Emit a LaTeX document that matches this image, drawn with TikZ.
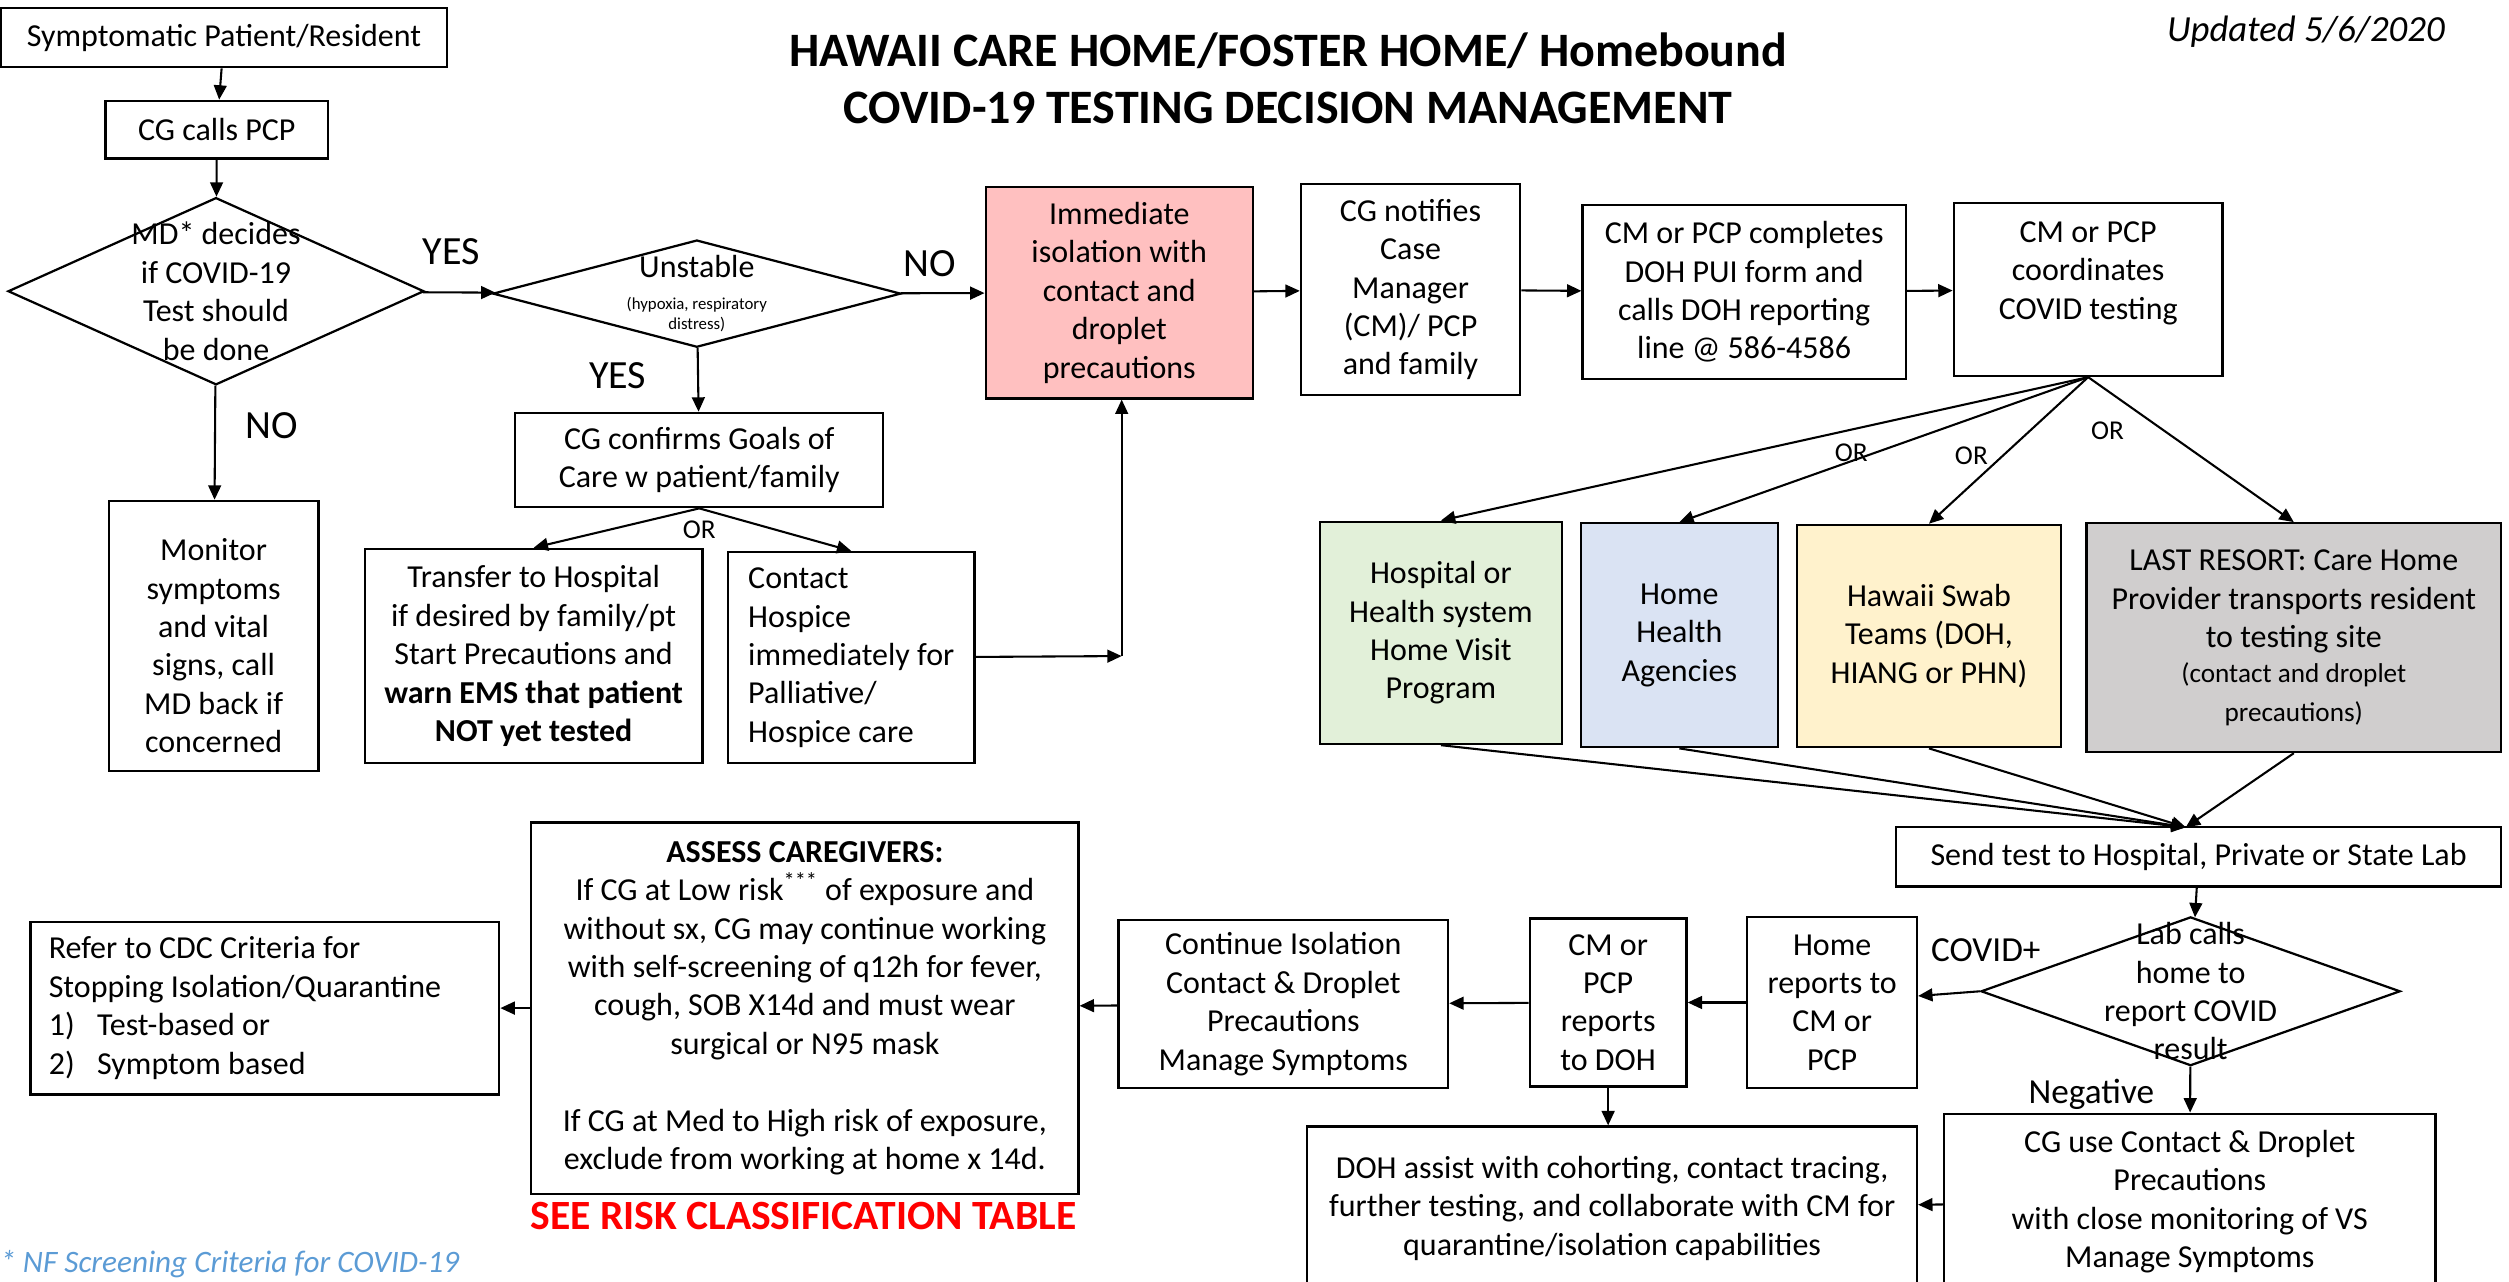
\documentclass[tikz,border=0pt]{standalone}
\usepackage{fontspec}
\setmainfont{Carlito}
\usetikzlibrary{shapes.geometric,arrows.meta}

\definecolor{isopink}{RGB}{255,192,192}
\definecolor{visitgreen}{RGB}{226,240,217}
\definecolor{agencyblue}{RGB}{218,227,243}
\definecolor{swabyellow}{RGB}{255,242,204}
\definecolor{resortgray}{RGB}{208,206,206}
\definecolor{footblue}{RGB}{91,155,213}
\definecolor{alertred}{RGB}{255,0,0}

\newcommand{\smallnote}[1]{{\fontsize{10.5}{12}\selectfont #1}}
\newcommand{\midnote}[1]{{\fontsize{17}{22}\selectfont #1}}

\tikzset{
  ->/.style={draw=black,line width=1.3pt,-{Triangle[length=9pt,width=8pt]}},
  box/.style={draw=black,line width=1.4pt,align=center,inner sep=2pt},
  decision/.style={diamond,draw=black,line width=1.4pt,align=center,inner sep=-22pt},
  answer/.style={font=\fontsize{25}{30}\selectfont},
  orword/.style={font=\fontsize{17}{20}\selectfont}
}
\tikzstyle{every node}=[color=black,font=\fontsize{20}{24}\selectfont]

\begin{document}
\begin{tikzpicture}[x=1pt,y=-1pt]
    \useasboundingbox (0,0) rectangle (1568,801);
    % heading
    \node[font=\bfseries\fontsize{30}{36}\selectfont,align=center] (title) at (805,49)
      {HAWAII CARE HOME/FOSTER HOME/ Homebound\\COVID-19 TESTING DECISION MANAGEMENT};
    \node[font=\itshape\fontsize{23}{28}\selectfont] (date) at (1441,20) {Updated 5/6/2020};

    % left column
    \node[box,minimum width=279pt,minimum height=37pt] (patient) at (140,23.5) {Symptomatic Patient/Resident};
    \node[box,minimum width=139pt,minimum height=36pt] (pcp) at (135.5,81) {CG calls PCP};
    \node[decision,aspect=2.2,minimum width=260pt,minimum height=117pt] (md) at (135,182)
      {MD* decides\\if COVID-19\\Test should\\be done};
    \node[box,minimum width=131pt,minimum height=169pt] (monitor) at (133.5,397.5)
      {\mbox{}\\[2pt]Monitor\\symptoms\\and vital\\signs, call\\MD back if\\concerned};

    % unstable branch
    \node[decision,aspect=3.8,minimum width=255pt,minimum height=67pt] (unstable) at (435.5,183.5)
      {Unstable\\[-4pt]\smallnote{(hypoxia, respiratory}\\[-11pt]\smallnote{distress)}};
    \node[box,minimum width=230pt,minimum height=59pt] (goals) at (437,287.5)
      {CG confirms Goals of\\Care w patient/family};
    \node[box,minimum width=211pt,minimum height=134pt] (transfer) at (333.5,410)
      {Transfer to Hospital\\if desired by family/pt\\Start Precautions and\\
       \textbf{warn EMS that patient}\\\textbf{NOT yet tested}};
    \node[box,align=left,minimum width=154pt,minimum height=132pt] (hospice) at (532,411)
      {Contact\\Hospice\\immediately for\\Palliative/\\Hospice care};
    \coordinate (bend) at (701,410);

    % top row
    \node[box,fill=isopink,minimum width=167pt,minimum height=132pt] (iso) at (699.5,183)
      {Immediate\\isolation with\\contact and\\droplet\\precautions};
    \node[box,minimum width=137pt,minimum height=132pt] (notify) at (881.5,181)
      {CG notifies\\Case\\Manager\\(CM)/ PCP\\and family};
    \node[box,minimum width=202pt,minimum height=109pt] (pui) at (1090,182.5)
      {CM or PCP completes\\DOH PUI form and\\calls DOH reporting\\line @ 586-4586};
    \node[box,minimum width=168pt,minimum height=108pt] (coord) at (1305,181)
      {CM or PCP\\coordinates\\COVID testing\\ \mbox{}};

    % testing options
    \node[box,fill=visitgreen,minimum width=151pt,minimum height=139pt] (green) at (900.5,395.5)
      {Hospital or\\Health system\\Home Visit\\Program};
    \node[box,fill=agencyblue,minimum width=123pt,minimum height=140pt] (blue) at (1049.5,397)
      {Home\\Health\\Agencies};
    \node[box,fill=swabyellow,minimum width=165pt,minimum height=139pt] (yellow) at (1205.5,397.5)
      {Hawaii Swab\\Teams (DOH,\\HIANG or PHN)};
    \node[box,fill=resortgray,minimum width=259pt,minimum height=143pt] (gray) at (1433.5,398.5)
      {LAST RESORT: Care Home\\Provider transports resident\\to testing site\\[-2pt]
       \midnote{(contact and droplet}\\\midnote{precautions)}};

    % lab and results
    \node[box,minimum width=378pt,minimum height=37pt] (send) at (1374,535.5)
      {Send test to Hospital, Private or State Lab};
    \coordinate (sendin) at (1366,517);
    \node[decision,aspect=2.8,inner sep=-30pt,minimum width=262pt,minimum height=93pt] (lab) at (1369,619.5)
      {Lab calls\\home to\\report COVID\\result};
    \node[box,minimum width=106pt,minimum height=107pt] (homerep) at (1145,626.5)
      {Home\\reports to\\CM or\\PCP};
    \node[box,minimum width=98pt,minimum height=105pt] (cmdoh) at (1005,626.5)
      {CM or\\PCP\\reports\\to DOH};
    \node[box,minimum width=206pt,minimum height=105pt] (contiso) at (802,627.5)
      {Continue Isolation\\Contact \& Droplet\\Precautions\\Manage Symptoms};
    \node[box,minimum width=342pt,minimum height=232pt] (assess) at (503,630)
      {\textbf{ASSESS CAREGIVERS:}\\If CG at Low risk\textsuperscript{***} of exposure and\\
       without sx, CG may continue working\\with self-screening of q12h for fever,\\
       cough, SOB X14d and must wear\\surgical or N95 mask\\[24pt]
       If CG at Med to High risk of exposure,\\exclude from working at home x 14d.};
    \node[box,align=flush left,text width=270pt,minimum width=293pt,minimum height=108pt] (cdc) at (165.5,630)
      {Refer to CDC Criteria for\\Stopping Isolation/Quarantine\\
       1)\hspace{14pt}Test-based or\\2)\hspace{14pt}Symptom based};
    \node[box,minimum width=381pt,minimum height=102pt] (dohassist) at (1007.5,755)
      {DOH assist with cohorting, contact tracing,\\further testing, and collaborate with CM for\\
       quarantine/isolation capabilities};
    \node[box,minimum width=307pt,minimum height=110pt] (cguse) at (1368.5,751)
      {CG use Contact \& Droplet\\Precautions\\with close monitoring of VS\\Manage Symptoms};

    % notes
    \node[font=\bfseries\fontsize{26}{30}\selectfont,text=alertred] (risk) at (502,760)
      {SEE RISK CLASSIFICATION TABLE};
    \node[font=\itshape\fontsize{19.5}{24}\selectfont,text=footblue,anchor=west,inner sep=0pt] (nf) at (0,790)
      {* NF Screening Criteria for COVID-19};

    % answers
    \node[answer] (yesa) at (282,157) {YES};
    \node[answer] (noa) at (581,165) {NO};
    \node[answer] (yesb) at (386,235) {YES};
    \node[answer] (nob) at (170,266) {NO};
    \node[orword] (ora) at (437,331) {OR};
    \node[orword] (orb) at (1157,283) {OR};
    \node[orword] (orc) at (1232,285) {OR};
    \node[orword] (ord) at (1317,269) {OR};
    \node[font=\fontsize{22}{26}\selectfont] (pos) at (1241,594) {COVID+};
    \node[font=\fontsize{22}{26}\selectfont] (neg) at (1307,684) {Negative};

    % connectors
    \draw[->] (patient) -- (pcp);
    \draw[->] (pcp) -- (md);
    \draw[->] (md) -- (unstable);
    \draw[->] (md) -- (monitor);
    \draw[->] (unstable) -- (iso);
    \draw[->] (unstable) -- (goals);
    \draw[->] (goals.south) -- (transfer.north);
    \draw[->] (goals.south) -- (hospice.north);
    \draw[->] (hospice) -- (bend);
    \draw[->] (bend) -- (bend |- iso.south);
    \draw[->] (iso) -- (notify);
    \draw[->] (notify) -- (pui);
    \draw[->] (pui) -- (coord);
    \draw[->] (coord.south) -- (green.north);
    \draw[->] (coord.south) -- (blue.north);
    \draw[->] (coord.south) -- (yellow.north);
    \draw[->] (coord.south) -- (gray.north);
    \draw[->] (green.south) -- (sendin);
    \draw[->] (blue.south) -- (sendin);
    \draw[->] (yellow.south) -- (sendin);
    \draw[->] (gray.south) -- (sendin);
    \draw[->] (send) -- (lab);
    \draw[->] (lab.west) -- (homerep);
    \draw[->] (homerep) -- (cmdoh);
    \draw[->] (cmdoh) -- (contiso);
    \draw[->] (contiso) -- (assess);
    \draw[->] (assess) -- (cdc);
    \draw[->] (cmdoh) -- (cmdoh |- dohassist.north);
    \draw[->] (lab) -- (cguse);
    \draw[->] (cguse) -- (dohassist);
\end{tikzpicture}
\end{document}
